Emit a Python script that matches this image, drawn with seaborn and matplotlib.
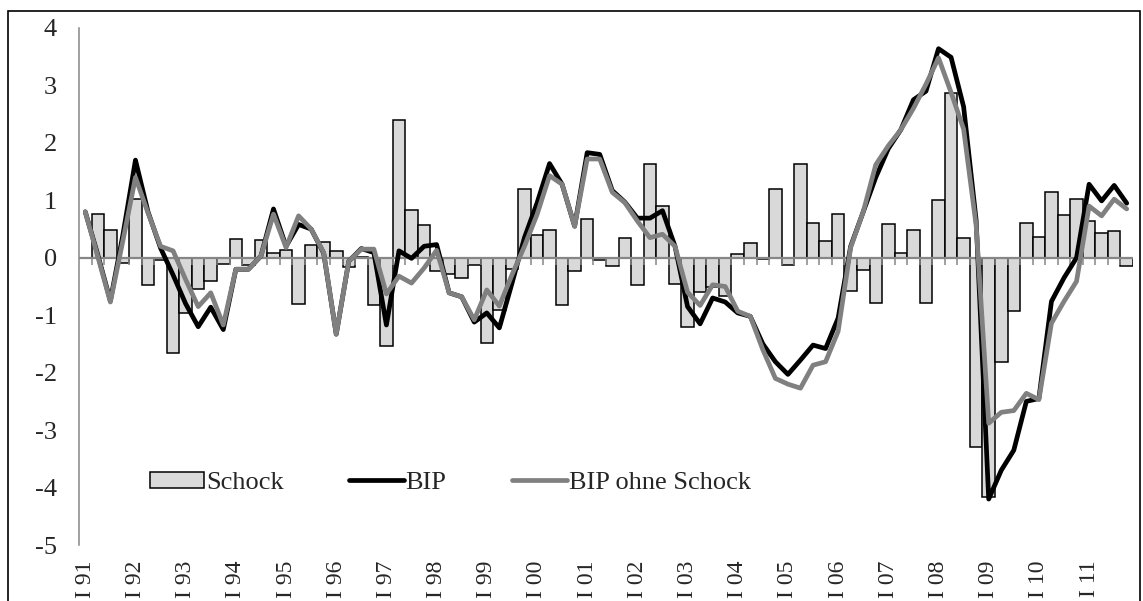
import numpy as np
import pandas as pd
import seaborn as sns
from matplotlib import pyplot as plt
from matplotlib.patches import Rectangle

# one label per year, shown at the first quarter
year_labels = ["I 91", "I 92", "I 93", "I 94", "I 95", "I 96", "I 97", "I 98", "I 99", "I 00",
               "I 01", "I 02", "I 03", "I 04", "I 05", "I 06", "I 07", "I 08", "I 09", "I 10", "I 11"]

# quarterly values 1991 Q1 - 2011 Q4, one row per year
schock = [np.nan, 0.77, 0.49, -0.09,
          1.03, -0.48, -0.04, -1.65,
          -0.97, -0.54, -0.41, -0.10,
          0.33, -0.12, 0.31, 0.09,
          0.13, -0.81, 0.22, 0.28,
          0.12, -0.16, 0.01, -0.83,
          -1.53, 2.39, 0.83, 0.57,
          -0.23, -0.29, -0.36, -0.13,
          -1.48, -0.91, -0.19, 1.19,
          0.39, 0.48, -0.82, -0.23,
          0.67, -0.03, -0.14, 0.34,
          -0.47, 1.63, 0.90, -0.46,
          -1.20, -0.60, -0.50, -0.67,
          0.07, 0.26, -0.02, 1.19,
          -0.13, 1.64, 0.61, 0.30,
          0.77, -0.57, -0.22, -0.79,
          0.58, 0.09, 0.49, -0.79,
          1.00, 2.87, 0.34, -3.30,
          -4.17, -1.81, -0.92, 0.61,
          0.36, 1.14, 0.74, 1.03,
          0.64, 0.43, 0.47, -0.15]

bip = [0.80, 0.05, -0.75, 0.40,
       1.70, 0.80, 0.17, -0.30,
       -0.80, -1.20, -0.86, -1.25,
       -0.20, -0.20, 0.03, 0.85,
       0.20, 0.58, 0.50, 0.08,
       -1.33, -0.06, 0.16, 0.09,
       -1.17, 0.12, -0.01, 0.20,
       0.23, -0.61, -0.68, -1.12,
       -0.96, -1.22, -0.45, 0.35,
       0.95, 1.64, 1.28, 0.55,
       1.83, 1.80, 1.17, 0.97,
       0.69, 0.69, 0.82, 0.20,
       -0.85, -1.15, -0.70, -0.77,
       -0.96, -1.02, -1.50, -1.81,
       -2.03, -1.78, -1.52, -1.58,
       -1.05, 0.20, 0.80, 1.40,
       1.90, 2.23, 2.75, 2.90,
       3.64, 3.49, 2.63, 0.65,
       -4.20, -3.70, -3.35, -2.50,
       -2.45, -0.76, -0.35, 0.00,
       1.28, 0.99, 1.26, 0.95]

bip_ohne = [0.80, 0.02, -0.77, 0.30,
            1.40, 0.78, 0.20, 0.12,
            -0.38, -0.85, -0.61, -1.17,
            -0.20, -0.20, 0.03, 0.76,
            0.18, 0.73, 0.50, 0.09,
            -1.33, -0.06, 0.15, 0.15,
            -0.63, -0.32, -0.44, -0.18,
            0.13, -0.61, -0.68, -1.08,
            -0.56, -0.84, -0.30, 0.20,
            0.75, 1.43, 1.28, 0.55,
            1.72, 1.72, 1.14, 0.96,
            0.64, 0.35, 0.41, 0.20,
            -0.60, -0.83, -0.47, -0.50,
            -0.93, -1.02, -1.60, -2.10,
            -2.20, -2.27, -1.87, -1.81,
            -1.28, 0.18, 0.80, 1.62,
            1.95, 2.23, 2.60, 3.02,
            3.48, 2.88, 2.24, 0.56,
            -2.88, -2.69, -2.66, -2.36,
            -2.47, -1.14, -0.76, -0.41,
            0.90, 0.73, 1.02, 0.85]

n = len(bip)
quarters = [f"{lab} Q{q}" for lab in year_labels for q in range(1, 5)]
df = pd.DataFrame({"quartal": quarters, "pos": np.arange(n),
                   "schock": schock, "bip": bip, "bip_ohne": bip_ohne})

sns.set_style("white")
plt.rcParams["font.family"] = ["Liberation Serif", "DejaVu Serif"]
plt.rcParams["axes.unicode_minus"] = False

axis_grey = "#868686"
fs = 19

fig, ax = plt.subplots(figsize=(11.43, 6.01), dpi=100)
fig.subplots_adjust(left=79 / 1143, right=1133 / 1143, bottom=1 - 545 / 601, top=1 - 28 / 601)

sns.barplot(data=df, x="quartal", y="schock", width=1.0, color="#d9d9d9", saturation=1,
            edgecolor="black", linewidth=1.1, errorbar=None, label="Schock", ax=ax, zorder=1)

# zero line with tick marks between the quarters
ax.axhline(0, color=axis_grey, lw=1.6, zorder=2)
ax.vlines(np.arange(1, n) - 0.5, -0.12, 0, color=axis_grey, lw=1.1, zorder=2)

sns.lineplot(data=df, x="pos", y="bip", color="black", lw=3.4, label="BIP", ax=ax, zorder=3)
sns.lineplot(data=df, x="pos", y="bip_ohne", color="#808080", lw=3.4, label="BIP ohne Schock",
             ax=ax, zorder=4)

ax.set_xlim(-0.5, n - 0.5)
ax.set_ylim(-5, 4)
ax.set_yticks(range(-5, 5))
ax.set_xticks(np.arange(0, n, 4), year_labels, rotation=90)
ax.set_xlabel("")
ax.set_ylabel("")
ax.tick_params(axis="x", length=0, pad=11, labelsize=17)
ax.tick_params(axis="y", length=5, width=1.1, color=axis_grey, pad=11, labelsize=fs, direction="out")
sns.despine(ax=ax, top=True, right=True, bottom=True)
ax.spines["left"].set_color(axis_grey)
ax.spines["left"].set_linewidth(1.1)

handles, labels = ax.get_legend_handles_labels()
order = [labels.index(k) for k in ("Schock", "BIP", "BIP ohne Schock")]
ax.legend([handles[i] for i in order], [labels[i] for i in order], ncol=3, loc="center left",
          bbox_to_anchor=(0.067, 0.12), frameon=False, fontsize=fs, handlelength=2.05,
          handleheight=0.55, handletextpad=0.08, columnspacing=2.5, borderpad=0, borderaxespad=0)

# chart area border
fig.add_artist(Rectangle((8 / 1143, -0.1), 1132 / 1143, 1 - 11 / 601 + 0.1,
                         transform=fig.transFigure, fill=False, edgecolor="black", lw=1.2))

fig.savefig("out.png", dpi=100)
